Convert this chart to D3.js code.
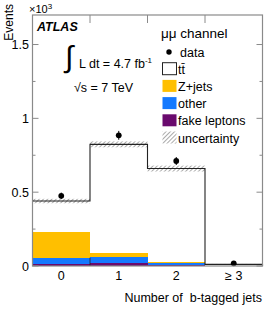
<!DOCTYPE html>
<html>
<head>
<meta charset="utf-8">
<script src="https://cdn.jsdelivr.net/npm/d3@7"></script>
<style>
	body { margin: 0; background: #fff; }
	svg text { font-family: "Liberation Sans", Arial, Helvetica, sans-serif; }
</style>
</head>
<body>
<svg id="chart" width="266" height="317"></svg>
<script>
// bins of the b-tag multiplicity
var bins = [0, 1, 2, 3];
var bin_labels = ['0', '1', '2', '\u2265 3'];

// stacked predictions (events), bottom to top
var fake_leptons = [15, 20, 6, 1];
var other = [41, 39, 11, 1];
var z_jets = [176, 29, 8, 1];
var ttbar = [208, 736, 635, 8];

// total prediction uncertainty (half width)
var uncertainty = [15, 20, 20, 3];

// measured data
var data_values = [475, 885, 711, 18];
var data_errors = [22, 30, 27, 4];

var y_ticks = [0, 500, 1000, 1500];
var y_tick_labels = ['0', '0.5', '1', '1.5'];

var frame_color = '#8a8a8a';
var svg = d3.select('#chart');

var x = d3.scaleLinear().domain([-0.5, 3.5]).range([32.5, 262.5]);
var y = d3.scaleLinear().domain([0, 1700]).range([266, 15]);

// hatch pattern for the uncertainty band
var defs = svg.append('defs');
var pat = defs.append('pattern')
	.attr('id', 'hatch')
	.attr('patternUnits', 'userSpaceOnUse')
	.attr('width', 3).attr('height', 3)
	.attr('patternTransform', 'rotate(45)');
pat.append('line')
	.attr('x1', 0).attr('y1', 0).attr('x2', 0).attr('y2', 3)
	.attr('stroke', '#555').attr('stroke-width', 1);

// build the stack
var layers = [
	{ name: 'fake', values: fake_leptons, color: '#6a0a6e' },
	{ name: 'other', values: other, color: '#1479ff' },
	{ name: 'zjets', values: z_jets, color: '#ffbf00' },
	{ name: 'ttbar', values: ttbar, color: '#ffffff' }
];
var base = bins.map(function () { return 0; });
layers.forEach(function (layer) {
	layer.rects = bins.map(function (b, i) {
		var r = { bin: b, y0: base[i], y1: base[i] + layer.values[i] };
		base[i] = r.y1;
		return r;
	});
});
var totals = base.slice();

var plot = svg.append('g');

layers.forEach(function (layer) {
	plot.selectAll(null)
		.data(layer.rects)
		.enter().append('rect')
		.attr('x', function (d) { return x(d.bin - 0.5); })
		.attr('width', function (d) { return x(d.bin + 0.5) - x(d.bin - 0.5); })
		.attr('y', function (d) { return y(d.y1); })
		.attr('height', function (d) { return y(d.y0) - y(d.y1); })
		.attr('fill', layer.color)
		.attr('shape-rendering', 'crispEdges');
});

// thin edge of the "other" histogram between bins 0 and 1
plot.append('line')
	.attr('x1', x(0.5)).attr('x2', x(0.5))
	.attr('y1', y(0)).attr('y2', y(fake_leptons[0] + other[0]))
	.attr('stroke', '#222').attr('stroke-width', 0.8);

// uncertainty band
plot.selectAll(null)
	.data(bins)
	.enter().append('rect')
	.attr('x', function (d) { return x(d - 0.5); })
	.attr('width', function (d) { return x(d + 0.5) - x(d - 0.5); })
	.attr('y', function (d, i) { return y(totals[i] + uncertainty[i]); })
	.attr('height', function (d, i) { return y(totals[i] - uncertainty[i]) - y(totals[i] + uncertainty[i]); })
	.attr('fill', 'url(#hatch)');

// step outline of the total prediction
var step_points = [];
bins.forEach(function (b, i) {
	step_points.push([x(b - 0.5), y(totals[i])]);
	step_points.push([x(b + 0.5), y(totals[i])]);
});
step_points.push([x(3.5), y(0)]);
plot.append('path')
	.attr('d', d3.line()(step_points))
	.attr('fill', 'none')
	.attr('stroke', '#222')
	.attr('stroke-width', 1.1);

// data points
plot.selectAll(null)
	.data(bins)
	.enter().append('line')
	.attr('x1', function (d) { return x(d); })
	.attr('x2', function (d) { return x(d); })
	.attr('y1', function (d, i) { return y(data_values[i] - data_errors[i]); })
	.attr('y2', function (d, i) { return y(data_values[i] + data_errors[i]); })
	.attr('stroke', '#000').attr('stroke-width', 1);
plot.selectAll(null)
	.data(bins)
	.enter().append('circle')
	.attr('cx', function (d) { return x(d); })
	.attr('cy', function (d, i) { return y(data_values[i]); })
	.attr('r', 2.9)
	.attr('fill', '#000');

// frame
svg.append('rect')
	.attr('x', x(-0.5)).attr('y', y(1700))
	.attr('width', x(3.5) - x(-0.5)).attr('height', y(0) - y(1700))
	.attr('fill', 'none').attr('stroke', frame_color).attr('stroke-width', 1.2);

// y axes (ticks point inward)
var minor_ticks = d3.range(250, 1700, 500);
function y_axis(g, side) {
	var dir = side === 'left' ? 1 : -1;
	var x0 = side === 'left' ? x(-0.5) : x(3.5);
	g.selectAll(null).data(y_ticks).enter().append('line')
		.attr('x1', x0).attr('x2', x0 + dir * 6)
		.attr('y1', function (d) { return y(d); }).attr('y2', function (d) { return y(d); })
		.attr('stroke', frame_color);
	g.selectAll(null).data(minor_ticks).enter().append('line')
		.attr('x1', x0).attr('x2', x0 + dir * 3)
		.attr('y1', function (d) { return y(d); }).attr('y2', function (d) { return y(d); })
		.attr('stroke', frame_color);
}
svg.append('g').call(y_axis, 'left');
svg.append('g').call(y_axis, 'right');

svg.append('g').selectAll(null)
	.data(y_ticks).enter().append('text')
	.attr('x', 29).attr('y', function (d) { return y(d) + 4.5; })
	.attr('text-anchor', 'end').attr('font-size', 12.5)
	.attr('fill', '#000')
	.text(function (d, i) { return y_tick_labels[i]; });

// x axis: ticks on bin edges, labels at bin centres
var edges = [0.5, 1.5, 2.5];
svg.append('g').selectAll(null).data(edges).enter().append('line')
	.attr('x1', function (d) { return x(d); }).attr('x2', function (d) { return x(d); })
	.attr('y1', y(1700)).attr('y2', y(1700) + 8)
	.attr('stroke', frame_color);

svg.append('g').selectAll(null)
	.data(bins).enter().append('text')
	.attr('x', function (d) { return x(d); }).attr('y', 280)
	.attr('text-anchor', 'middle').attr('font-size', 12.5)
	.text(function (d, i) { return bin_labels[i]; });

svg.append('text')
	.attr('x', 262).attr('y', 302)
	.attr('text-anchor', 'end').attr('font-size', 12.5)
	.attr('xml:space', 'preserve')
	.text('Number of  b-tagged jets');

svg.append('text')
	.attr('transform', 'translate(13,4) rotate(-90)')
	.attr('text-anchor', 'end').attr('font-size', 12)
	.text('Events');

var mult = svg.append('text').attr('x', 29).attr('y', 13).attr('font-size', 11);
mult.append('tspan').text('\u00d710');
mult.append('tspan').attr('dy', -4).attr('font-size', 8).text('3');

// labels
svg.append('text')
	.attr('x', 37).attr('y', 31)
	.attr('font-size', 12.5).attr('font-weight', 'bold').attr('font-style', 'italic')
	.text('ATLAS');

svg.append('text')
	.attr('x', 65).attr('y', 67)
	.attr('font-size', 30).attr('font-family', '"DejaVu Sans", sans-serif')
	.text('\u222b');
var lumi = svg.append('text').attr('x', 79).attr('y', 68).attr('font-size', 12.5);
lumi.append('tspan').text('L dt = 4.7 fb');
lumi.append('tspan').attr('dy', -5).attr('font-size', 8).text('-1');

svg.append('text').attr('x', 74).attr('y', 92).attr('font-size', 12.5)
	.text('\u221as = 7 TeV');

// legend
var legend = svg.append('g');
legend.append('text')
	.attr('x', 161).attr('y', 38).attr('font-size', 13.5)
	.text('\u03bc\u03bc channel');

var legend_items = [
	{ label: 'data', kind: 'dot' },
	{ label: 't\u0074\u0304', kind: 'box', color: '#fff' },
	{ label: 'Z+jets', kind: 'box', color: '#ffbf00' },
	{ label: 'other', kind: 'box', color: '#1479ff' },
	{ label: 'fake leptons', kind: 'box', color: '#6a0a6e' },
	{ label: 'uncertainty', kind: 'hatch' }
];

legend_items.forEach(function (it, i) {
	var cy = 52 + i * 17.2;
	if (it.kind === 'dot') {
		legend.append('circle').attr('cx', 169).attr('cy', cy).attr('r', 2.7).attr('fill', '#000');
	} else {
		legend.append('rect')
			.attr('x', 162.5).attr('y', cy - 6.5).attr('width', 14).attr('height', 12)
			.attr('fill', it.kind === 'hatch' ? 'url(#hatch)' : it.color)
			.attr('stroke', it.kind === 'box' && it.color === '#fff' ? '#222' : 'none');
	}
	legend.append('text')
		.attr('x', it.kind === 'dot' ? 180 : 178).attr('y', cy + 4.5)
		.attr('font-size', 12.5)
		.text(it.label);
});
</script>
</body>
</html>
